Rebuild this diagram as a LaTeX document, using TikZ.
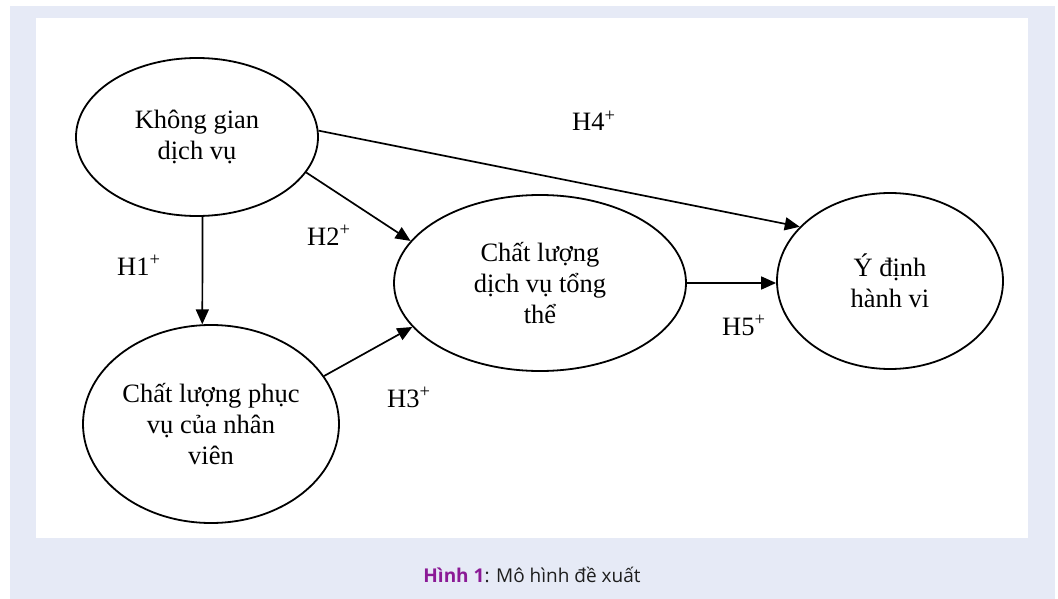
\documentclass[tikz,border=0pt]{standalone}
\usepackage{fontspec}
\setmainfont{Liberation Serif}
\newfontfamily\capfont{Open Sans}
\usetikzlibrary{shapes.geometric,arrows.meta}
\definecolor{pagebg}{RGB}{230,234,246}
\definecolor{capviolet}{RGB}{139,26,150}
\definecolor{captext}{RGB}{30,30,30}
\tikzset{
  construct/.style={draw=black, line width=1.8pt, ellipse, inner sep=0pt,
    align=center, font=\fontsize{26.5}{31}\selectfont, text=black},
  path arrow/.style={draw=black, line width=1.7pt,
    -{Triangle[length=15pt,width=13pt]}},
  hyp/.style={anchor=base west, inner sep=0pt, font=\fontsize{26.5}{31}\selectfont, text=black}
}
\begin{document}
\begin{tikzpicture}[x=1pt,y=-1pt]
  \useasboundingbox (0,0) rectangle (1058,599);
  % page background and white figure panel
  \fill[white] (0,0) rectangle (1058,599);
  \fill[pagebg] (10,6) rectangle (1055,599);
  \fill[white] (36,18) rectangle (1028,538);

  % constructs
  \node[construct, minimum width=242pt, minimum height=158pt] (ksp) at (197,137) {Không gian\\dịch vụ};
  \node[construct, minimum width=256pt, minimum height=198pt] (clpv) at (211,424) {Chất lượng phục\\vụ của nhân\\viên};
  \node[construct, minimum width=292pt, minimum height=176pt] (cldv) at (540,283) {Chất lượng\\dịch vụ tổng\\thể};
  \node[construct, minimum width=226pt, minimum height=176pt] (ydhv) at (890,281) {Ý định\\hành vi};

  % hypothesised paths
  \draw[path arrow] (ksp.-86) -- (clpv.95);
  \draw[path arrow] (ksp.-18) -- (cldv.162);
  \draw[path arrow] (ksp.3) -- (ydhv.149);
  \draw[path arrow] (clpv.23) -- (cldv.-161);
  \draw[path arrow] (cldv.east) -- (cldv.east -| ydhv.west);

  % hypothesis labels
  \node[hyp] (h1) at (117,275) {H1\textsuperscript{+}};
  \node[hyp] (h2) at (307,245) {H2\textsuperscript{+}};
  \node[hyp] (h3) at (387,407) {H3\textsuperscript{+}};
  \node[hyp] (h4) at (572,131) {H4\textsuperscript{+}};
  \node[hyp] (h5) at (722,335) {H5\textsuperscript{+}};

  % caption
  \node[anchor=base, inner sep=0pt, font=\capfont\fontsize{19}{23}\selectfont, text=captext] (cap) at (532,582)
    {\textcolor{capviolet}{\bfseries Hình 1}: Mô hình đề xuất};
\end{tikzpicture}
\end{document}
